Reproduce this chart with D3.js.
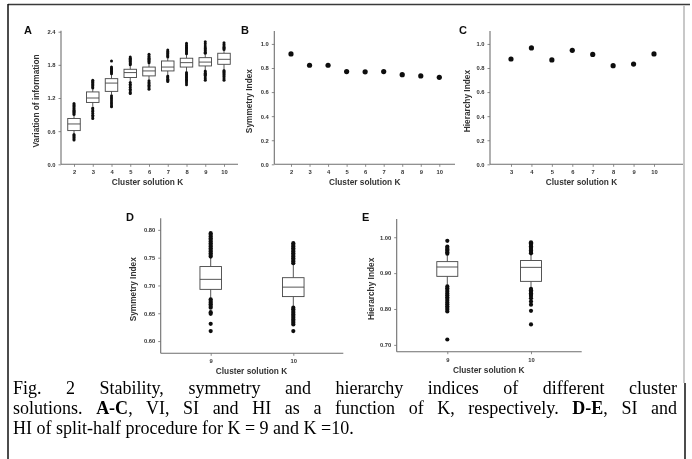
<!DOCTYPE html>
<html lang="en">
<head>
<meta charset="UTF-8">
<title>Fig. 2</title>
<script src="https://cdn.jsdelivr.net/npm/d3@7/dist/d3.min.js"></script>
<style>
    body { margin: 0; background: #fff; }
    #fig { position: relative; width: 692px; height: 459px; overflow: hidden; }
    #fig svg { position: absolute; left: 0; top: 0; }
    .cap { position: absolute; left: 13px; width: 664px; font-family: "Liberation Serif", "Times New Roman", serif;
           font-size: 18px; line-height: 20px; color: #000; white-space: nowrap; }
    .cap.just { text-align: justify; text-align-last: justify; white-space: normal; }
</style>
</head>
<body>
<div id="fig"></div>
<script>
    // ---- data ----
    const kA = [2, 3, 4, 5, 6, 7, 8, 9, 10];
    // VI boxplots: [lowWhisker, q1, median, q3, highWhisker]
    const viStats = [
        [0.56, 0.61, 0.73, 0.83, 0.88],
        [1.05, 1.12, 1.20, 1.31, 1.36],
        [1.26, 1.32, 1.47, 1.55, 1.62],
        [1.50, 1.57, 1.66, 1.72, 1.78],
        [1.53, 1.60, 1.69, 1.76, 1.82],
        [1.62, 1.69, 1.76, 1.87, 1.92],
        [1.68, 1.76, 1.84, 1.92, 1.98],
        [1.71, 1.78, 1.85, 1.93, 1.99],
        [1.72, 1.81, 1.90, 2.01, 2.06]
    ];
    const viOutliers = [
        [0.90, 0.92, 0.94, 0.96, 0.98, 1.00, 1.02, 1.04, 1.06, 1.08, 1.10, 0.54, 0.52, 0.50, 0.48, 0.46, 0.44],
        [1.38, 1.40, 1.42, 1.44, 1.46, 1.48, 1.50, 1.52, 1.02, 1.00, 0.97, 0.95, 0.92, 0.89, 0.86, 0.83],
        [1.64, 1.66, 1.68, 1.70, 1.72, 1.74, 1.76, 1.87, 1.24, 1.21, 1.18, 1.15, 1.12, 1.09, 1.06, 1.04],
        [1.80, 1.82, 1.84, 1.86, 1.88, 1.90, 1.92, 1.94, 1.48, 1.45, 1.42, 1.39, 1.36, 1.33, 1.30, 1.28],
        [1.84, 1.86, 1.88, 1.90, 1.92, 1.94, 1.96, 1.99, 1.51, 1.48, 1.46, 1.43, 1.41, 1.38, 1.36],
        [1.94, 1.96, 1.98, 2.00, 2.02, 2.04, 2.07, 1.60, 1.58, 1.56, 1.54, 1.52, 1.50],
        [2.00, 2.02, 2.04, 2.06, 2.08, 2.10, 2.12, 2.14, 2.16, 2.19, 1.66, 1.64, 1.62, 1.60, 1.58, 1.56, 1.54, 1.52, 1.50, 1.47, 1.44],
        [2.01, 2.03, 2.05, 2.07, 2.09, 2.11, 2.14, 2.18, 2.22, 1.69, 1.67, 1.65, 1.63, 1.61, 1.58, 1.55, 1.52],
        [2.08, 2.10, 2.12, 2.14, 2.17, 2.20, 1.70, 1.68, 1.66, 1.64, 1.62, 1.60, 1.58, 1.55, 1.52]
    ];
    const viTicks = [0, 0.6, 1.2, 1.8, 2.4];

    const kB = [2, 3, 4, 5, 6, 7, 8, 9, 10];
    const siValues = [0.917, 0.823, 0.823, 0.770, 0.768, 0.770, 0.745, 0.734, 0.723];
    const kC = [3, 4, 5, 6, 7, 8, 9, 10];
    const hiValues = [0.875, 0.967, 0.867, 0.947, 0.913, 0.819, 0.833, 0.917];
    const indexTicks = [0, 0.2, 0.4, 0.6, 0.8, 1.0];

    const kSplit = [9, 10];
    const siSplitStats = [
        [0.677, 0.693, 0.711, 0.734, 0.750],
        [0.662, 0.680, 0.697, 0.714, 0.738]
    ];
    const siSplitOutliers = [
        [0.752, 0.755, 0.758, 0.761, 0.764, 0.767, 0.770, 0.773, 0.776, 0.779, 0.782, 0.785, 0.788, 0.791, 0.794,
         0.675, 0.672, 0.669, 0.666, 0.663, 0.660, 0.652, 0.649, 0.631, 0.618],
        [0.740, 0.743, 0.746, 0.749, 0.752, 0.755, 0.758, 0.761, 0.764, 0.767, 0.770, 0.773, 0.776,
         0.660, 0.657, 0.654, 0.651, 0.648, 0.645, 0.642, 0.639, 0.636, 0.633, 0.630, 0.618]
    ];
    const siSplitTicks = [0.60, 0.65, 0.70, 0.75, 0.80];
    const hiSplitStats = [
        [0.866, 0.891, 0.917, 0.932, 0.951],
        [0.859, 0.877, 0.916, 0.935, 0.952]
    ];
    const hiSplitOutliers = [
        [0.954, 0.958, 0.962, 0.966, 0.970, 0.974, 0.990,
         0.863, 0.858, 0.853, 0.848, 0.843, 0.838, 0.833, 0.828, 0.823, 0.818, 0.813, 0.808, 0.803, 0.798, 0.793, 0.715],
        [0.955, 0.959, 0.963, 0.967, 0.971, 0.975, 0.979, 0.983, 0.986,
         0.856, 0.852, 0.848, 0.844, 0.840, 0.836, 0.830, 0.821, 0.812, 0.795, 0.757]
    ];
    const hiSplitTicks = [0.70, 0.80, 0.90, 1.00];

    const captionLines = [
        'Fig. 2 Stability, symmetry and hierarchy indices of different cluster',
        'solutions. <b>A-C</b>, VI, SI and HI as a function of K, respectively. <b>D-E</b>, SI and',
        'HI of split-half procedure for K = 9 and K =10.'
    ];

    // ---- drawing ----
    const W = 692, H = 459;
    const fig = d3.select('#fig');
    const svg = fig.append('svg').attr('width', W).attr('height', H);
    const sans = 'Liberation Sans, Arial, sans-serif';
    const textCol = '#333';
    const axisCol = '#6e6e6e';

    // soften the plots a little, the source is a scanned figure
    svg.append('defs').append('filter').attr('id', 'soft')
        .append('feGaussianBlur').attr('stdDeviation', 0.35);
    const plots = svg.append('g').attr('filter', 'url(#soft)');

    // frame
    svg.append('line').attr('x1', 8).attr('x2', 690).attr('y1', 4.5).attr('y2', 4.5)
        .attr('stroke', '#3a3a3a').attr('stroke-width', 1.5);
    svg.append('line').attr('x1', 8).attr('x2', 8).attr('y1', 4).attr('y2', H)
        .attr('stroke', '#111').attr('stroke-width', 1.5);
    svg.append('line').attr('x1', 684).attr('x2', 684).attr('y1', 5).attr('y2', 383)
        .attr('stroke', '#c8c8c8').attr('stroke-width', 2);
    svg.append('line').attr('x1', 685).attr('x2', 685).attr('y1', 383).attr('y2', H)
        .attr('stroke', '#111').attr('stroke-width', 1.5);

    function panel(p) {
        const g = plots.append('g');
        const x = d3.scaleLinear().domain(p.xDomain).range(p.xRange);
        const y = d3.scaleLinear().domain(p.yDomain).range([p.bottom, p.top]);

        // y axis
        const ya = g.append('g').attr('transform', `translate(${p.left},0)`)
            .call(d3.axisLeft(y).tickValues(p.yTicks).tickFormat(d3.format(p.fmt)).tickSize(2.5).tickPadding(3));
        // x axis
        const xa = g.append('g').attr('transform', `translate(0,${p.bottom})`)
            .call(d3.axisBottom(x).tickValues(p.cats).tickFormat(d3.format('d')).tickSize(2.5).tickPadding(3.5));
        [ya, xa].forEach(a => {
            a.select('.domain').remove();
            a.selectAll('line').attr('stroke', axisCol).attr('stroke-width', 0.8);
            a.selectAll('text').attr('fill', textCol).attr('font-family', sans)
                .attr('font-size', 5.8).attr('font-weight', 'bold');
        });
        g.append('line').attr('x1', p.left).attr('x2', p.left).attr('y1', p.bottom).attr('y2', p.top - 1)
            .attr('stroke', axisCol).attr('stroke-width', 1.1);
        g.append('line').attr('x1', p.left).attr('x2', p.right).attr('y1', p.bottom).attr('y2', p.bottom)
            .attr('stroke', axisCol).attr('stroke-width', 1.1);

        // titles
        g.append('text').attr('x', (p.left + p.right) / 2 + p.xtOff).attr('y', p.bottom + 21)
            .attr('text-anchor', 'middle').attr('font-family', sans).attr('font-size', 8.3)
            .attr('font-weight', 'bold').attr('fill', textCol).text('Cluster solution K');
        g.append('text').attr('transform', `translate(${p.ytX},${(p.top + p.bottom) / 2 + 3}) rotate(-90)`)
            .attr('text-anchor', 'middle').attr('font-family', sans).attr('font-size', 8.3)
            .attr('font-weight', 'bold').attr('fill', textCol).text(p.yTitle);
        g.append('text').attr('x', p.lx).attr('y', p.ly).attr('font-family', sans).attr('font-size', 11)
            .attr('font-weight', 'bold').attr('fill', '#111').text(p.label);
        return { g, x, y };
    }

    function boxes(pn, cats, stats, outs, bw, r) {
        const { g, x, y } = pn;
        cats.forEach((k, i) => {
            const [lo, q1, med, q3, hi] = stats[i];
            const cx = x(k);
            g.append('line').attr('x1', cx).attr('x2', cx).attr('y1', y(hi)).attr('y2', y(q3))
                .attr('stroke', '#444').attr('stroke-width', 0.9);
            g.append('line').attr('x1', cx).attr('x2', cx).attr('y1', y(q1)).attr('y2', y(lo))
                .attr('stroke', '#444').attr('stroke-width', 0.9);
            g.append('rect').attr('x', cx - bw / 2).attr('y', y(q3)).attr('width', bw)
                .attr('height', y(q1) - y(q3)).attr('fill', '#fff').attr('stroke', '#444').attr('stroke-width', 0.9);
            g.append('line').attr('x1', cx - bw / 2).attr('x2', cx + bw / 2).attr('y1', y(med)).attr('y2', y(med))
                .attr('stroke', '#444').attr('stroke-width', 0.9);
            g.selectAll(null).data(outs[i]).enter().append('circle')
                .attr('cx', cx).attr('cy', d => y(d)).attr('r', r).attr('fill', '#111');
        });
    }

    function dots(pn, cats, vals) {
        const { g, x, y } = pn;
        g.selectAll(null).data(vals).enter().append('circle')
            .attr('cx', (d, i) => x(cats[i])).attr('cy', d => y(d)).attr('r', 2.6).attr('fill', '#111');
    }

    const pA = panel({ label: 'A', lx: 24, ly: 34, cats: kA, xDomain: [2, 10], xRange: [74, 224],
        left: 61, right: 238, yDomain: [0, 2.4], yTicks: viTicks, fmt: '.1f', top: 31.7, bottom: 164.3,
        yTitle: 'Variation of information', ytX: 39, xtOff: -2 });
    boxes(pA, kA, viStats, viOutliers, 12.5, 1.5);

    const pB = panel({ label: 'B', lx: 241, ly: 34, cats: kB, xDomain: [2, 10], xRange: [291, 439.3],
        left: 274.3, right: 455, yDomain: [0, 1.1], yTicks: indexTicks, fmt: '.1f', top: 31.9, bottom: 164.3,
        yTitle: 'Symmetry Index', ytX: 252, xtOff: 0 });
    dots(pB, kB, siValues);

    const pC = panel({ label: 'C', lx: 459, ly: 34, cats: kC, xDomain: [3, 10], xRange: [511, 654],
        left: 490, right: 683, yDomain: [0, 1.1], yTicks: indexTicks, fmt: '.1f', top: 31.9, bottom: 164.3,
        yTitle: 'Hierarchy Index', ytX: 470, xtOff: -5 });
    dots(pC, kC, hiValues);

    const pD = panel({ label: 'D', lx: 126, ly: 221, cats: kSplit, xDomain: [9, 10], xRange: [210.7, 293.3],
        left: 160.7, right: 343.3, yDomain: [0.578, 0.819], yTicks: siSplitTicks, fmt: '.2f', top: 219.3, bottom: 353.3,
        yTitle: 'Symmetry Index', ytX: 135.5, xtOff: -0.5 });
    boxes(pD, kSplit, siSplitStats, siSplitOutliers, 21.5, 2.1);

    const pE = panel({ label: 'E', lx: 362, ly: 221, cats: kSplit, xDomain: [9, 10], xRange: [447.3, 531],
        left: 396.7, right: 581.7, yDomain: [0.681, 1.048], yTicks: hiSplitTicks, fmt: '.2f', top: 220, bottom: 351.7,
        yTitle: 'Hierarchy Index', ytX: 373.5, xtOff: -0.5 });
    boxes(pE, kSplit, hiSplitStats, hiSplitOutliers, 21, 2.1);

    // caption, first two lines justified like the printed page
    const capTops = [378, 398, 418];
    captionLines.forEach((t, i) => {
        fig.append('div').attr('class', i < 2 ? 'cap just' : 'cap')
            .style('top', capTops[i] + 'px').html(t);
    });
</script>
</body>
</html>
